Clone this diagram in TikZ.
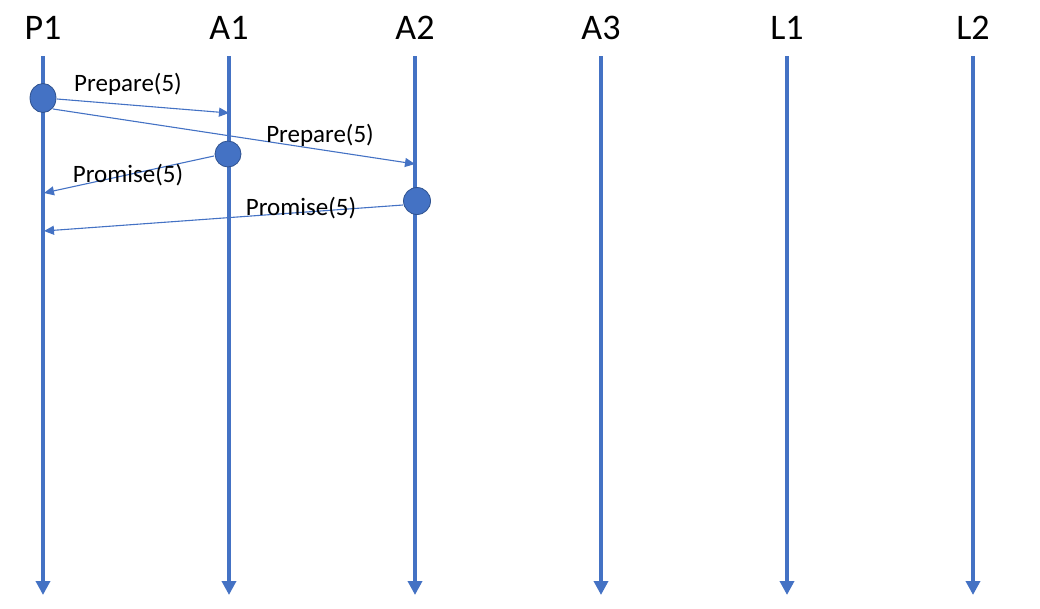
\documentclass[tikz,border=0pt]{standalone}
\usepackage{fontspec}
\setmainfont{Carlito}
\usetikzlibrary{arrows.meta,shapes.geometric}
\definecolor{lblue}{HTML}{4472C4}
\definecolor{dblue}{HTML}{2F528F}
\tikzset{
  lifeline/.style={draw=lblue, line width=4pt, -{Triangle[width=14pt,length=14pt]}},
  head/.style={font=\fontsize{36}{36}\selectfont, anchor=center, inner sep=0pt},
  event/.style={ellipse, fill=lblue, draw=dblue, line width=0.8pt, inner sep=0pt},
  msg/.style={draw=lblue, line width=1.1pt, -{Triangle[width=9pt,length=10pt]}},
  msglabel/.style={font=\fontsize{25}{25}\selectfont, inner sep=0pt, anchor=center}
}
\begin{document}
\begin{tikzpicture}[x=1pt,y=-1pt]
\useasboundingbox (0,0) rectangle (1040,608);
% headers
\foreach \n/\x in {P1/43,A1/229,A2/415,A3/601,L1/787,L2/973}{
  \node[head] (h\n) at (\x,28) {\n};
  \coordinate (t\n) at (\x,56);
  \coordinate (b\n) at (\x,595);
  \draw[lifeline] (t\n) -- (b\n);
}
% events
\node[event, minimum width=26pt, minimum height=29pt] (e1) at (43,98) {};
\node[event, minimum width=26pt, minimum height=26pt] (e2) at (228,154) {};
\node[event, minimum width=27pt, minimum height=27pt] (e3) at (417,201) {};
% message targets
\coordinate (m1) at (229,113);
\coordinate (m2) at (415,164);
\coordinate (m3) at (44,193);
\coordinate (m4) at (44,231);
\coordinate (s1) at (57,99);
\coordinate (s2) at (53,109);
\coordinate (s3) at (214,156);
\coordinate (s4) at (403,205);
\draw[msg] (s1) -- (m1);
\draw[msg] (s2) -- (m2);
\draw[msg] (s3) -- (m3);
\draw[msg] (s4) -- (m4);
% labels
\node[msglabel] (l1) at (128,84) {Prepare(5)};
\node[msglabel] (l2) at (320,135) {Prepare(5)};
\node[msglabel] (l3) at (128,175) {Promise(5)};
\node[msglabel] (l4) at (301,208) {Promise(5)};
\end{tikzpicture}
\end{document}
